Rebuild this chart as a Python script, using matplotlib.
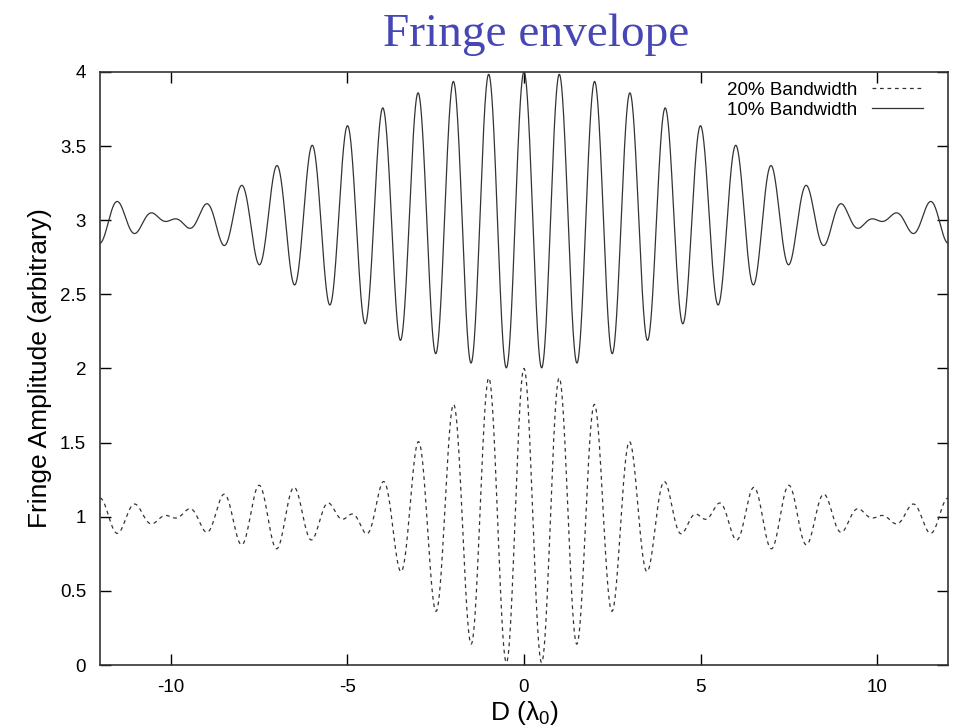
import numpy as np
import matplotlib.pyplot as plt

# fringe parameters
labels = ['20% Bandwidth', '10% Bandwidth']
bandwidths = [0.20, 0.10]
offsets = [1.0, 3.0]
styles = ['--', '-']
d_range = [-12, 12]
x_ticks = [-10, -5, 0, 5, 10]
y_ticks = [0, 0.5, 1, 1.5, 2, 2.5, 3, 3.5, 4]
y_ticklabels = ['0', '0.5', '1', '1.5', '2', '2.5', '3', '3.5', '4']

plt.rcParams['font.family'] = ['Liberation Sans', 'DejaVu Sans']
plt.rcParams['axes.unicode_minus'] = False

fig = plt.figure(figsize=(9.56, 7.26), dpi=100)
ax = fig.add_axes([0.1046, 0.084, 0.8870, 0.817])

d = np.linspace(d_range[0], d_range[1], 4001)
for lab, bw, off, ls in zip(labels, bandwidths, offsets, styles):
    # fringe = offset + sinc envelope * cosine carrier
    y = off + np.sinc(bw * d) * np.cos(2 * np.pi * d)
    ax.plot(d, y, ls, color='#333333', lw=0.9, label=lab,
            dashes=(3, 3) if ls == '--' else (None, None))

ax.set_xlim(d_range)
ax.set_ylim(0, 4)
ax.set_xticks(x_ticks)
ax.set_yticks(y_ticks)
ax.set_yticklabels(y_ticklabels)
ax.tick_params(direction='in', length=8, width=1, top=True, right=True,
               labelsize=13.5, pad=10)
for s in ax.spines.values():
    s.set_linewidth(1.2)
    s.set_color('#333333')

ax.set_xlabel(r'D ($\mathregular{\lambda_0}$)', fontsize=19, labelpad=2)
ax.set_ylabel('Fringe Amplitude (arbitrary)', fontsize=19, labelpad=6)

fig.text(0.561, 0.937, 'Fringe envelope', fontsize=34, color='#4646B4',
         family='Liberation Serif', ha='center', va='baseline')

ax.legend(loc='upper right', bbox_to_anchor=(0.979, 0.996), frameon=False,
          markerfirst=False, fontsize=13.5, handlelength=2.7, labelspacing=0.15,
          borderaxespad=0, borderpad=0.4, handletextpad=0.8)

plt.savefig('out.png')
